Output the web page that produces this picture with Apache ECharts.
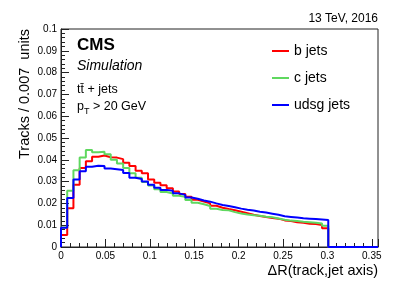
<!DOCTYPE html>
<html>
<head>
<meta charset="utf-8">
<script src="https://cdn.jsdelivr.net/npm/echarts@6/dist/echarts.min.js"></script>
<style>html,body{margin:0;padding:0;background:#fff}#c{width:407px;height:293px}</style>
</head>
<body>
<div id="c"></div>
<script>
var binWidth = 0.007;
var nBins = 51;
var seriesNames = ['b jets', 'c jets', 'udsg jets'];
var bJets = [0.0055,0.0178,0.0285,0.0362,0.0393,0.0414,0.0420,0.0412,0.0410,0.0403,0.0386,0.0372,0.0350,0.0338,0.0310,0.0295,0.0283,0.0269,0.0255,0.0243,0.0231,0.0217,0.0208,0.0200,0.0189,0.0180,0.0174,0.0169,0.0162,0.0155,0.0148,0.0142,0.0138,0.0133,0.0130,0.0122,0.0119,0.0114,0.0111,0.0107,0.0105,0.0101,0.0086];
var cJets = [0.0090,0.0258,0.0352,0.0410,0.0445,0.0435,0.0437,0.0425,0.0400,0.0383,0.0362,0.0338,0.0318,0.0298,0.0282,0.0265,0.0252,0.0245,0.0235,0.0230,0.0216,0.0203,0.0196,0.0188,0.0175,0.0170,0.0168,0.0160,0.0154,0.0149,0.0146,0.0143,0.0139,0.0136,0.0131,0.0125,0.0121,0.0119,0.0116,0.0114,0.0111,0.0108,0.0097];
var udsgJets = [0.0088,0.0225,0.0310,0.0348,0.0368,0.0373,0.0372,0.0360,0.0357,0.0353,0.0340,0.0318,0.0312,0.0300,0.0286,0.0272,0.0262,0.0258,0.0246,0.0239,0.0227,0.0221,0.0213,0.0208,0.0200,0.0193,0.0188,0.0182,0.0176,0.0171,0.0167,0.0162,0.0158,0.0153,0.0148,0.0141,0.0138,0.0135,0.0132,0.0130,0.0128,0.0126,0.0124];
var colors = ['#ff0000', '#5fd85f', '#0000ff'];
var xTicks = ['0','0.05','0.1','0.15','0.2','0.25','0.3','0.35'];

function histPoints(vals) {
  var pts = [[0, 0]];
  for (var k = 0; k < nBins; k++) {
    var v = k < vals.length ? vals[k] : 0;
    pts.push([+(k * binWidth).toFixed(4), v]);
  }
  pts.push([+(nBins * binWidth).toFixed(4), 0]);
  return pts;
}

var font = 'Liberation Sans, Arial, sans-serif';
var chart = echarts.init(document.getElementById('c'), null, {renderer: 'canvas'});
var data = [bJets, cJets, udsgJets];
var series = data.map(function (d, i) {
  return {
    name: seriesNames[i], type: 'line', step: 'end', data: histPoints(d),
    showSymbol: false, symbol: 'none', clip: false, animation: false,
    lineStyle: {color: colors[i], width: 2}, itemStyle: {color: colors[i]}
  };
});

chart.setOption({
  animation: false,
  grid: {left: 61, right: 29, top: 29, bottom: 46, show: true, borderColor: '#222', borderWidth: 1, backgroundColor: 'transparent'},
  legend: {
    orient: 'vertical', left: 267, top: 39, itemWidth: 17, itemHeight: 2, itemGap: 13,
    icon: 'rect', textStyle: {fontFamily: font, fontSize: 14, color: '#000'},
    data: seriesNames.map(function (n, i) { return {name: n, itemStyle: {color: colors[i]}}; })
  },
  xAxis: {
    type: 'value', min: 0, max: nBins * binWidth, interval: 0.05,
    axisLine: {lineStyle: {color: '#222', width: 1}},
    axisTick: {inside: true, length: 8, lineStyle: {color: '#222'}},
    minorTick: {show: true, splitNumber: 5, length: 4, lineStyle: {color: '#222'}},
    splitLine: {show: false},
    axisLabel: {fontFamily: font, fontSize: 10, color: '#000', margin: 4, showMaxLabel: false,
      formatter: function (v) { var s = String(+v.toFixed(3)); return xTicks.indexOf(s) >= 0 ? s : ''; }}
  },
  yAxis: {
    type: 'value', min: 0, max: 0.1, interval: 0.01,
    axisLine: {show: true, lineStyle: {color: '#222', width: 1}},
    axisTick: {show: true, inside: true, length: 8, lineStyle: {color: '#222'}},
    minorTick: {show: true, splitNumber: 5, length: 4, lineStyle: {color: '#222'}},
    splitLine: {show: false},
    axisLabel: {fontFamily: font, fontSize: 10, color: '#000', margin: 4,
      formatter: function (v) { return String(+v.toFixed(3)); }}
  },
  graphic: [
    {type: 'text', x: 378, y: 19, style: {text: '13 TeV, 2016', font: '12px ' + font, fill: '#000', align: 'right', verticalAlign: 'middle'}},
    {type: 'text', x: 77, y: 45, style: {text: 'CMS', font: 'bold 17px ' + font, fill: '#000', align: 'left', verticalAlign: 'middle'}},
    {type: 'text', x: 77, y: 66, style: {text: 'Simulation', font: 'italic 14px ' + font, fill: '#000', align: 'left', verticalAlign: 'middle'}},
    {type: 'text', x: 77, y: 90, style: {text: 't\u0074\u0304 + jets', font: '12.5px ' + font, fill: '#000', align: 'left', verticalAlign: 'middle'}},
    {type: 'text', x: 77, y: 107, style: {text: 'p{s|T} > 20 GeV', font: '12.5px ' + font, fill: '#000', align: 'left', verticalAlign: 'middle',
      rich: {s: {fontSize: 9, fontFamily: font, padding: [9, 0, 0, 0]}}}},
    {type: 'text', x: 25, y: 29, rotation: Math.PI / 2, style: {text: 'Tracks / 0.007  units', font: '14.5px ' + font, fill: '#000', align: 'right', verticalAlign: 'middle'}},
    {type: 'text', x: 378, y: 271, style: {text: '\u0394R(track,jet axis)', font: '14.5px ' + font, fill: '#000', align: 'right', verticalAlign: 'middle'}}
  ],
  series: series
});
</script>
</body>
</html>
